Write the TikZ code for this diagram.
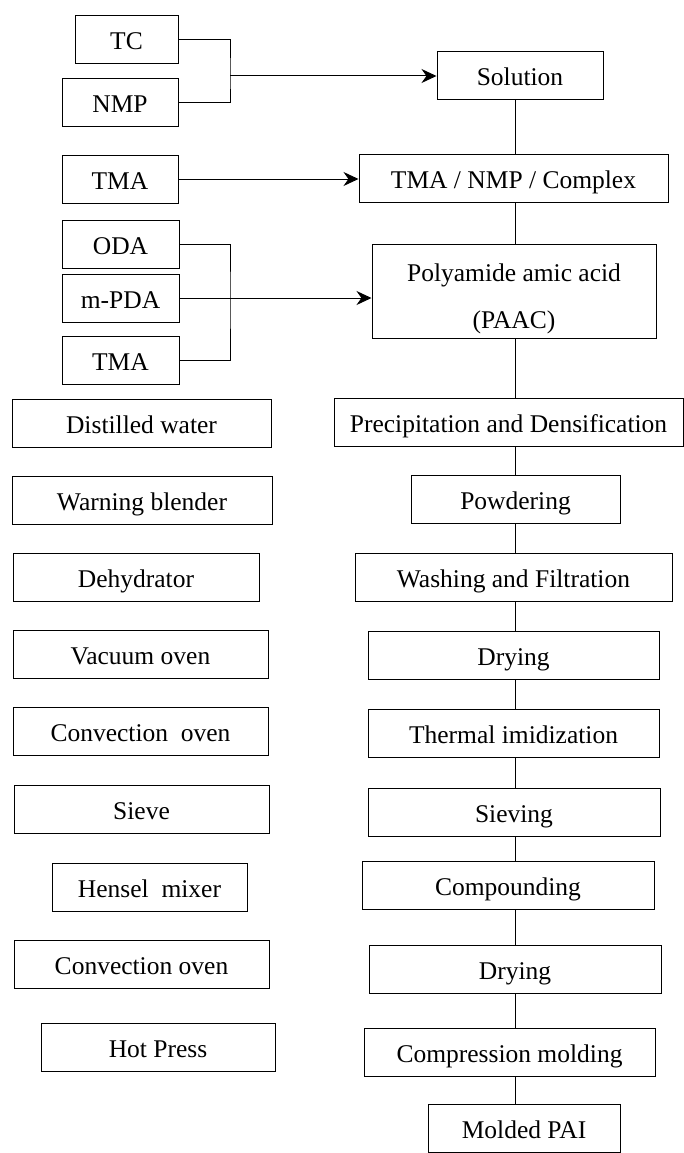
\documentclass[tikz,border=0pt]{standalone}
\usepackage{fontspec}
\setmainfont{Liberation Serif}
\usetikzlibrary{arrows.meta}

\begin{document}
\begin{tikzpicture}[x=1pt, y=-1pt,
    box/.style={draw, line width=1pt, minimum height=48pt, inner sep=0pt, align=center},
    lbl/.style={box, text height=20pt, text depth=0pt},
    flow/.style={line width=1pt},
    feed/.style={line width=1pt, -{Stealth[length=15pt, width=14pt]}},
    font={\fontsize{25.5}{47}\selectfont}]
  \useasboundingbox (0,0) rectangle (684,1153);

  % Raw materials
  \node[lbl, minimum width=103pt] (tc)   at (126.5,40)  {TC};
  \node[lbl, minimum width=116pt] (nmp)  at (120,103)   {NMP};
  \node[lbl, minimum width=116pt] (tmaA) at (120,179)   {TMA};
  \node[lbl, minimum width=117pt] (oda)  at (120.5,244) {ODA};
  \node[lbl, minimum width=117pt] (mpda) at (120.5,298) {m-PDA};
  \node[lbl, minimum width=117pt] (tmaB) at (120.5,360) {TMA};

  % Equipment
  \node[lbl, minimum width=259pt] (water)   at (141.5,423)  {Distilled water};
  \node[lbl, minimum width=260pt] (blender) at (142,500.5)  {Warning blender};
  \node[lbl, minimum width=246pt] (dehyd)   at (136,577.5)  {Dehydrator};
  \node[lbl, minimum width=255pt] (vacoven) at (140.5,654)  {Vacuum oven};
  \node[lbl, minimum width=255pt] (convA)   at (140.5,731.5){Convection~~oven};
  \node[lbl, minimum width=255pt] (sieve)   at (141.5,809)  {Sieve};
  \node[lbl, minimum width=195pt] (hensel)  at (149.5,887.5){Hensel~~mixer};
  \node[lbl, minimum width=255pt] (convB)   at (141.5,964.5){Convection oven};
  \node[lbl, minimum width=234pt] (press)   at (158,1047.5) {Hot Press};

  % Process chain
  \node[lbl, minimum width=166pt] (sol)     at (520,76)     {Solution};
  \node[lbl, minimum width=309pt] (cplx)    at (513.5,178)  {TMA / NMP / Complex};
  \node[box, minimum width=284pt, minimum height=94pt] (paac) at (514,291)
    {\rule{0pt}{33pt}Polyamide amic acid\\(PAAC)};
  \node[lbl, minimum width=349pt] (precip)  at (508.5,422.5){Precipitation and Densification};
  \node[lbl, minimum width=209pt] (powder)  at (515.5,499.5){Powdering};
  \node[lbl, minimum width=317pt] (wash)    at (513.5,577.5){Washing and Filtration};
  \node[lbl, minimum width=291pt] (dryA)    at (513.5,655)  {Drying};
  \node[lbl, minimum width=291pt] (imid)    at (513.5,733.5){Thermal imidization};
  \node[lbl, minimum width=292pt] (sieving) at (514,812.5)  {Sieving};
  \node[lbl, minimum width=292pt] (compd)   at (508,885.5)  {Compounding};
  \node[lbl, minimum width=292pt] (dryB)    at (515,969.5)  {Drying};
  \node[lbl, minimum width=291pt] (molding) at (509.5,1052.5){Compression molding};
  \node[lbl, minimum width=192pt] (pai)     at (524,1128.5) {Molded PAI};

  % Feed lines
  \coordinate (jnA) at (230,76);
  \coordinate (jnB) at (230,298);
  \draw[flow] (tc.east) -| (jnA) |- (nmp.east);
  \draw[feed] (jnA) -- (sol.west);
  \draw[feed] (tmaA.east) -- (tmaA.east -| cplx.west);
  \draw[flow] (oda.east) -| (jnB) |- (tmaB.east);
  \draw[flow] (mpda.east) -- (jnB);
  \draw[feed] (jnB) -- (jnB -| paac.west);

  % Links down the chain
  \coordinate (spine) at (515,0);
  \foreach \a/\b in {sol/cplx, cplx/paac, paac/precip, precip/powder, powder/wash,
                     wash/dryA, dryA/imid, imid/sieving, sieving/compd, compd/dryB,
                     dryB/molding, molding/pai} {
    \draw[flow] (spine |- \a.south) -- (spine |- \b.north);
  }
\end{tikzpicture}
\end{document}
